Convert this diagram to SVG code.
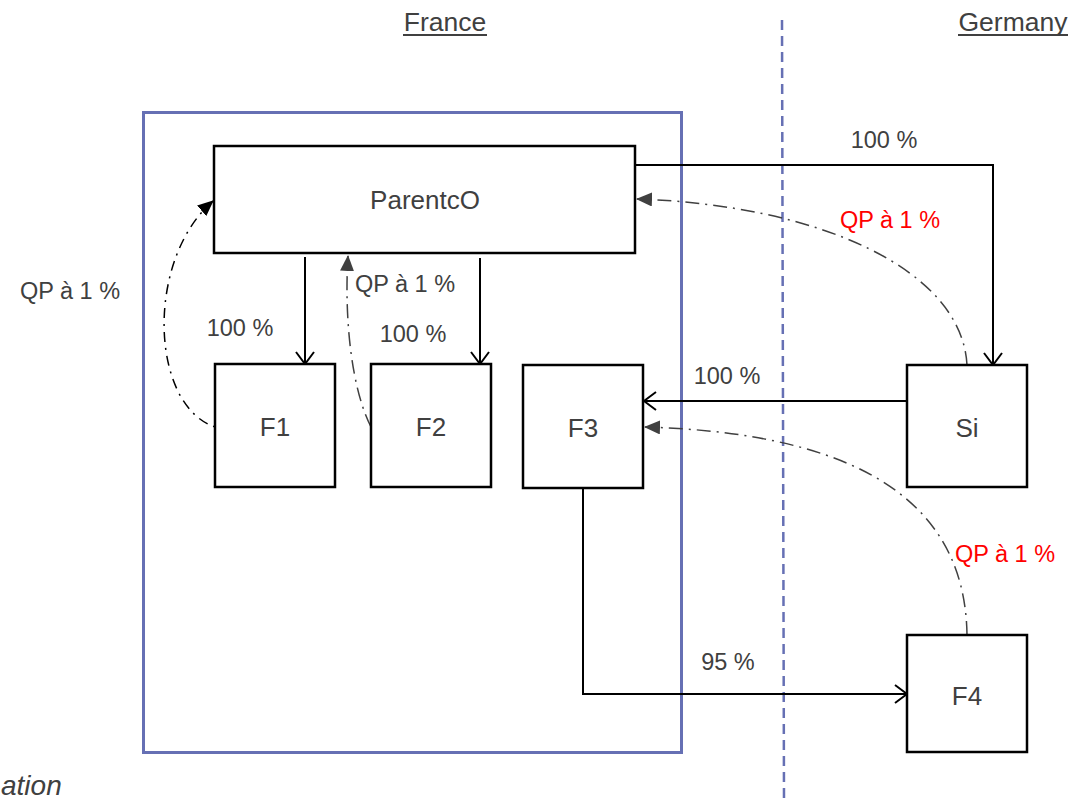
<svg xmlns="http://www.w3.org/2000/svg" width="1072" height="799" viewBox="0 0 1072 799">
<defs>
<style>
text{font-family:"Liberation Sans",Arial,sans-serif;fill:#404040;}
.lbl{font-size:23.5px;text-anchor:middle;}
.ttl{font-size:26.5px;text-anchor:middle;}
.nd{font-size:26px;text-anchor:middle;}
.red{fill:#ff0000;}
.box{fill:#fff;stroke:#000;stroke-width:2.5;}
.ln{fill:none;stroke:#000;stroke-width:2;}
.dd{fill:none;stroke:#404040;stroke-width:1.5;stroke-dasharray:14 6 2 6;}
.ddk{fill:none;stroke:#000;stroke-width:1.5;stroke-dasharray:2 6 10 6;}
</style>
<marker id="open" markerWidth="14" markerHeight="20" refX="13" refY="10" orient="auto" markerUnits="userSpaceOnUse">
<path d="M1,1 L13,10 L1,19" fill="none" stroke="#000" stroke-width="2"/>
</marker>
<marker id="tri" markerWidth="16" markerHeight="14" refX="15" refY="7" orient="auto" markerUnits="userSpaceOnUse">
<path d="M0,0 L16,7 L0,14 Z" fill="#404040"/>
</marker>
<marker id="trik" markerWidth="16" markerHeight="14" refX="15" refY="7" orient="auto" markerUnits="userSpaceOnUse">
<path d="M0,0 L16,7 L0,14 Z" fill="#000"/>
</marker>
</defs>
<rect width="1072" height="799" fill="#fff"/>
<g id="regions">
<rect x="143.5" y="112.5" width="538" height="640" fill="none" stroke="#6670b4" stroke-width="3"/>
<line x1="782" y1="20" x2="784" y2="799" stroke="#6670b4" stroke-width="2.5" stroke-dasharray="10 6"/>
<text x="445" y="31" class="ttl">France</text>
<line x1="403" y1="35" x2="487" y2="35" stroke="#404040" stroke-width="2"/>
<text x="1013" y="31" class="ttl">Germany</text>
<line x1="958" y1="35" x2="1068" y2="35" stroke="#404040" stroke-width="2"/>
<text x="1" y="795" style="font-size:28px;font-style:italic">ation</text>
</g>
<g id="connectors">
<line class="ln" x1="305" y1="257" x2="305" y2="364" marker-end="url(#open)"/>
<line class="ln" x1="480" y1="258" x2="480" y2="364" marker-end="url(#open)"/>
<polyline class="ln" points="635,165 993,165 993,365" marker-end="url(#open)"/>
<line class="ln" x1="907" y1="401" x2="644" y2="401" marker-end="url(#open)"/>
<polyline class="ln" points="583,488 583,694 907,694" marker-end="url(#open)"/>
<path class="ddk" d="M215,427 C150,405 145,260 213,201" marker-end="url(#trik)"/>
<path class="dd" d="M371,427 C352,390 344,320 348,256" marker-end="url(#tri)"/>
<path class="dd" d="M967,365 C962,270 820,205 637,199" marker-end="url(#tri)"/>
<path class="dd" d="M967,635 C965,480 820,432 645,427" marker-end="url(#tri)"/>
</g>
<g id="labels">
<text x="884" y="148" class="lbl">100 %</text>
<text x="890" y="228" class="lbl red">QP à 1 %</text>
<text x="70" y="299" class="lbl">QP à 1 %</text>
<text x="240" y="336" class="lbl">100 %</text>
<text x="405" y="292" class="lbl">QP à 1 %</text>
<text x="413" y="342" class="lbl">100 %</text>
<text x="727" y="384" class="lbl">100 %</text>
<text x="1005" y="562" class="lbl red">QP à 1 %</text>
<text x="728" y="670" class="lbl">95 %</text>
</g>
<g id="ParentcO"><rect class="box" x="214" y="146" width="421" height="107"/><text class="nd" x="425" y="209">ParentcO</text></g>
<g id="F1"><rect class="box" x="215" y="364" width="120" height="123"/><text class="nd" x="275" y="436">F1</text></g>
<g id="F2"><rect class="box" x="371" y="364" width="120" height="123"/><text class="nd" x="431" y="436">F2</text></g>
<g id="F3"><rect class="box" x="523" y="365" width="120" height="123"/><text class="nd" x="583" y="437">F3</text></g>
<g id="Si"><rect class="box" x="907" y="365" width="120" height="122"/><text class="nd" x="967" y="437">Si</text></g>
<g id="F4"><rect class="box" x="907" y="635" width="120" height="117"/><text class="nd" x="967" y="705">F4</text></g>
</svg>
